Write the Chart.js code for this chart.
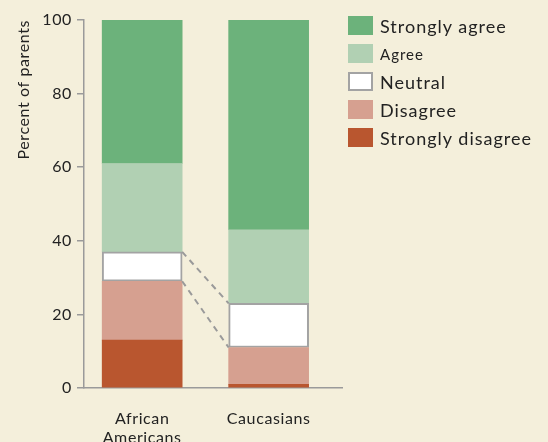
<!DOCTYPE html>
<html>
<head>
<meta charset="utf-8">
<script src="https://cdn.jsdelivr.net/npm/chart.js@4.4.1/dist/chart.umd.min.js"></script>
<style>
  body { margin: 0; background: #f4efdb; }
  #wrap { position: relative; width: 548px; height: 442px; overflow: hidden; }
  #legend { position: absolute; left: 348px; top: 16px; font-family: Lato, sans-serif; color: #222; letter-spacing: 1px; }
  .item { display: flex; align-items: center; height: 19px; margin-bottom: 9px; font-size: 18px; white-space: nowrap; }
  .item.small { font-size: 15px; }
  .sw { width: 25px; height: 19px; box-sizing: border-box; margin-right: 7px; flex: none; }
</style>
</head>
<body>
<div id="wrap">
  <canvas id="chart" width="548" height="442"></canvas>
  <div id="legend"></div>
</div>
<script>
// Survey data: percent of parents per response
const groups = [['African', 'Americans'], 'Caucasians'];
const responses = ['Strongly disagree', 'Disagree', 'Neutral', 'Agree', 'Strongly agree'];
const stronglyDisagree = [13, 1];
const disagree = [16, 10];
const neutral = [8, 12];
const agree = [24, 20];
const stronglyAgree = [39, 57];
const yTicks = [0, 20, 40, 60, 80, 100];

const colors = ['#b9562f', '#d6a090', '#ffffff', '#b1d0b3', '#6cb27b'];
const seriesValues = [stronglyDisagree, disagree, neutral, agree, stronglyAgree];

const datasets = responses.map((name, i) => ({
    label: name,
    data: seriesValues[i].map((v, j) => ({ x: j, y: v })),
    backgroundColor: colors[i],
    borderColor: name === 'Neutral' ? '#a3a3a3' : colors[i],
    borderWidth: name === 'Neutral' ? 2 : 0,
    borderSkipped: false,
    barThickness: 80
}));

// dashed lines joining the two neutral boxes
const connectorPlugin = {
    id: 'connector',
    beforeDraw(chart) {
        // the original lettering is a bit wider than Lato
        chart.ctx.letterSpacing = '0.6px';
    },
    afterDatasetsDraw(chart) {
        const meta = chart.getDatasetMeta(responses.indexOf('Neutral'));
        const a = meta.data[0], b = meta.data[1];
        const ctx = chart.ctx;
        ctx.save();
        ctx.strokeStyle = '#9a9a9a';
        ctx.lineWidth = 2;
        ctx.setLineDash([6, 5]);
        ctx.beginPath();
        ctx.moveTo(a.x + a.width / 2, a.y);
        ctx.lineTo(b.x - b.width / 2, b.y);
        ctx.moveTo(a.x + a.width / 2, a.base);
        ctx.lineTo(b.x - b.width / 2, b.base);
        ctx.stroke();
        ctx.restore();
    }
};

new Chart(document.getElementById('chart'), {
    type: 'bar',
    data: { datasets },
    options: {
        responsive: false,
        animation: false,
        layout: { padding: { top: 20, right: 206, left: 0, bottom: 0 } },
        plugins: { legend: { display: false }, tooltip: { enabled: false } },
        scales: {
            x: {
                type: 'linear',
                stacked: true,
                offset: false,
                min: -0.46,
                max: 1.58,
                afterFit: s => { s.height = 54; },
                afterBuildTicks: s => { s.ticks = groups.map((g, i) => ({ value: i })); },
                grid: { display: false, offset: false },
                border: { color: '#9a9a9a', width: 1.5 },
                ticks: {
                    padding: 13,
                    color: '#222',
                    font: { family: 'Lato', size: 16 },
                    callback: v => groups[v]
                }
            },
            y: {
                stacked: true,
                min: 0,
                max: 100,
                afterFit: s => { s.width = 84; },
                afterBuildTicks: s => { s.ticks = yTicks.map(v => ({ value: v })); },
                grid: { drawOnChartArea: false, tickLength: 7, color: '#9a9a9a', lineWidth: 1.5 },
                border: { color: '#9a9a9a', width: 1.5 },
                ticks: { padding: 5, color: '#222', font: { family: 'Lato', size: 16 } },
                title: {
                    display: true,
                    text: 'Percent of parents',
                    align: 'end',
                    color: '#222',
                    font: { family: 'Lato', size: 16 },
                    padding: { top: 14, bottom: 0 }
                }
            }
        }
    },
    plugins: [connectorPlugin]
});

// legend, top to bottom from strongly agree down
const legend = document.getElementById('legend');
responses.slice().reverse().forEach(name => {
    const i = responses.indexOf(name);
    const item = document.createElement('div');
    item.className = 'item' + (name === 'Agree' ? ' small' : '');
    const sw = document.createElement('div');
    sw.className = 'sw';
    sw.style.background = colors[i];
    if (name === 'Neutral') sw.style.border = '2px solid #a3a3a3';
    item.appendChild(sw);
    item.appendChild(document.createTextNode(name));
    legend.appendChild(item);
});
</script>
</body>
</html>
